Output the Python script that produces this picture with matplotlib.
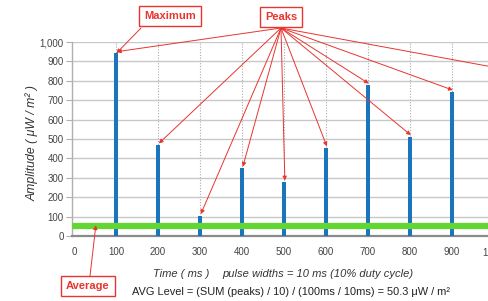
import matplotlib
matplotlib.use("Agg")
import matplotlib.pyplot as plt
import numpy as np

plt.rcParams['font.family'] = ['Liberation Sans', 'DejaVu Sans']

times = [100, 200, 300, 400, 500, 600, 700, 800, 900, 1000]
peaks = [942, 469, 105, 349, 278, 454, 778, 512, 744, 861]
avg_level = 50.3
pulse_width = 10
x_ticks = [0, 100, 200, 300, 400, 500, 600, 700, 800, 900, 1000]
y_ticks = [0, 100, 200, 300, 400, 500, 600, 700, 800, 900, 1000]

W, H = 488, 301
fig = plt.figure(figsize=(W/100, H/100), dpi=100)
# axes: left at px 72, bottom at px 236, top at px 42, extends past right edge
ax = fig.add_axes([72/W, (H-236)/H, 448/W, (236-42)/H])
ax.set_xlim(-4.76, 1061.9)
ax.set_ylim(0, 1000)

red = '#e8352f'
blue = '#1b75bc'
green = '#62d632'

ax.bar(times, peaks, width=pulse_width, color=blue, zorder=3)
ax.axhline(avg_level, color=green, lw=4.5, zorder=4)

ax.set_yticks(y_ticks)
ax.set_yticklabels([f"{v:,}" for v in y_ticks])
ax.set_xticks(x_ticks)
ax.set_xticklabels([f"{v:,}" for v in x_ticks])
ax.grid(axis='y', color='#c8c8c8', lw=1.0, zorder=0)
for t in x_ticks[1:]:
    ax.axvline(t, color='#aaaaaa', lw=0.8, ls=(0, (1, 1.5)), zorder=1)

for s in ['top', 'right']:
    ax.spines[s].set_visible(False)
ax.spines['left'].set_color('#b0b0b0')
ax.spines['left'].set_linewidth(1.0)
ax.spines['bottom'].set_color('#8a8a8a')
ax.spines['bottom'].set_linewidth(1.6)
ax.tick_params(axis='y', length=4, color='#b0b0b0', labelsize=7, labelcolor='#444444', pad=2)
ax.tick_params(axis='x', length=0, labelsize=7, labelcolor='#444444', pad=8)

fig.text(32/W, 1-143/H, "Amplitude ( μW / m² )", rotation=90, style='italic',
         fontsize=8.8, color='#333333', ha='center', va='center')
fig.text(153/W, 1-274/H, "Time ( ms )", style='italic', fontsize=8,
         color='#333333', ha='left', va='center')
fig.text(222/W, 1-274/H, "pulse widths = 10 ms (10% duty cycle)", style='italic',
         fontsize=8, color='#333333', ha='left', va='center')
fig.text(132/W, 1-292/H, "AVG Level = (SUM (peaks) / 10) / (100ms / 10ms) = 50.3 μW / m²",
         fontsize=7.9, color='#222222', ha='left', va='center')

box = dict(boxstyle='square,pad=0.45', fc='white', ec=red, lw=1.0)
fig.text(170/W, 1-16/H, "Maximum", fontsize=8, fontweight='bold', color=red,
         ha='center', va='center', bbox=box)
fig.text(281/W, 1-17/H, "Peaks", fontsize=8, fontweight='bold', color=red,
         ha='center', va='center', bbox=box)
fig.text(88/W, 1-286/H, "Average", fontsize=8, fontweight='bold', color=red,
         ha='center', va='center', bbox=box)

ap = dict(arrowstyle='-|>', color=red, lw=0.7, shrinkA=0, shrinkB=0, mutation_scale=6)

ax.annotate('', xy=(101, 942), xytext=(141/W, 1-28/H), textcoords='figure fraction',
            arrowprops=ap, annotation_clip=False, zorder=6)
for t, v in zip(times, peaks):
    ax.annotate('', xy=(t + 2, v + 8), xytext=(281/W, 1-28/H), textcoords='figure fraction',
                arrowprops=ap, annotation_clip=False, zorder=6)
ax.annotate('', xy=(52, avg_level + 5), xytext=(90/W, 1-276/H), textcoords='figure fraction',
            arrowprops=ap, annotation_clip=False, zorder=6)

fig.savefig('out.png', dpi=100)
